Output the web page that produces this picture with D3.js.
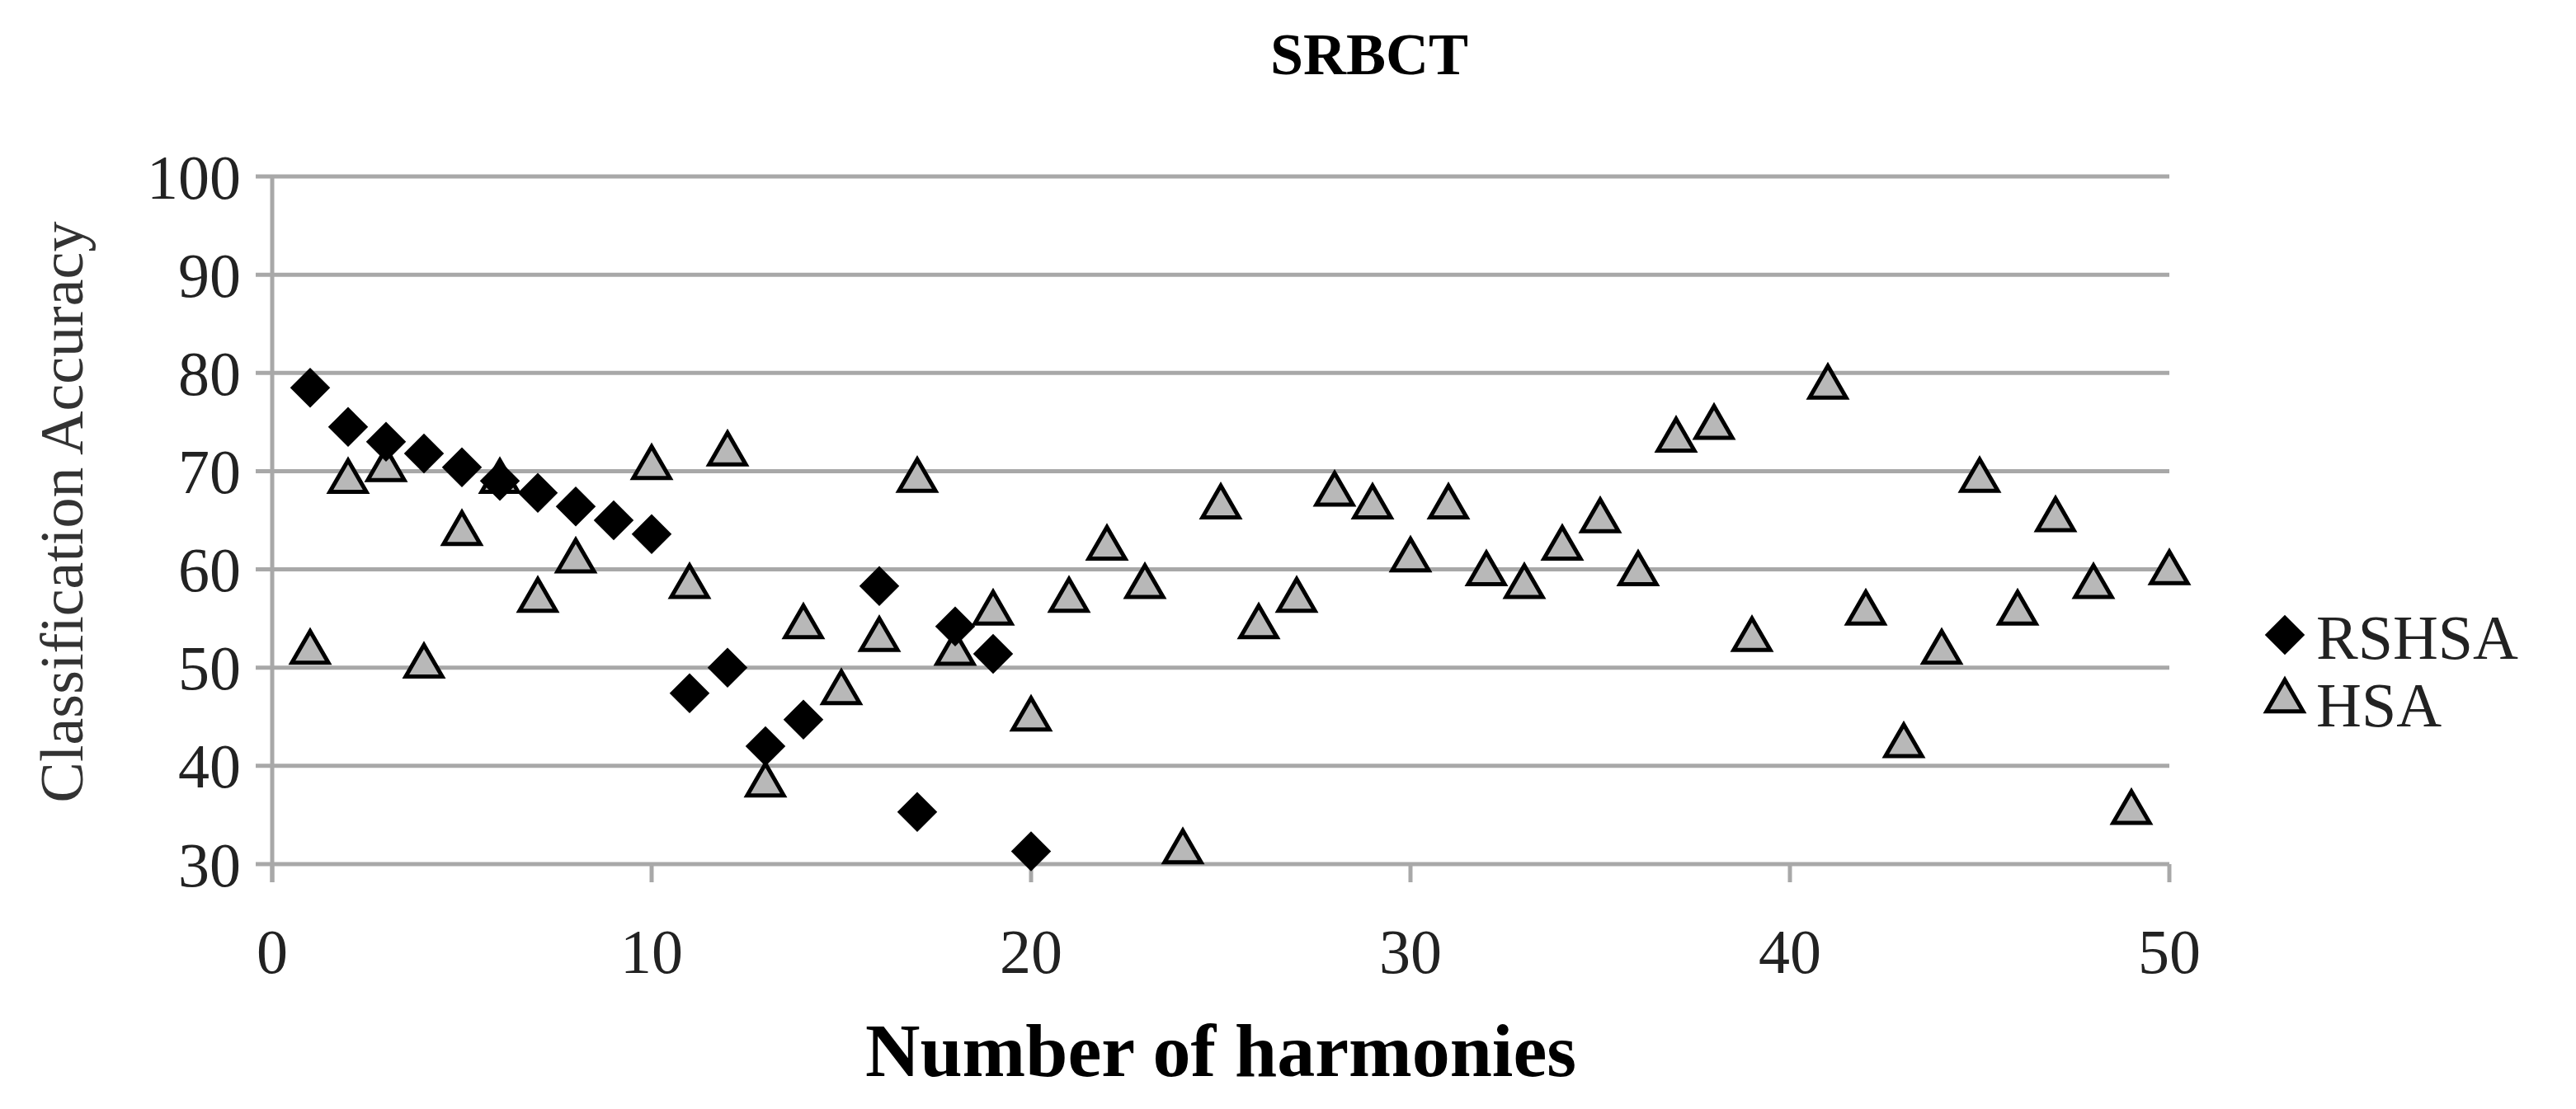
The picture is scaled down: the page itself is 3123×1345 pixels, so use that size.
<!DOCTYPE html>
<html>
<head>
<meta charset="utf-8">
<script src="https://cdn.jsdelivr.net/npm/d3@7"></script>
<style>
  body { margin: 0; background: #fff; }
  text { font-family: "Liberation Serif", "DejaVu Serif", serif; }
</style>
</head>
<body>
<div id="chart"></div>
<script>
// RSHSA series (harmonies, accuracy)
var rshsaX = [1, 2, 3, 4, 5, 6, 7, 8, 9, 10, 11, 12, 13, 14, 16, 17, 18, 19, 20];
var rshsaY = [78.5, 74.5, 73, 71.8, 70.4, 69, 67.8, 66.4, 65, 63.6, 47.4, 50, 42, 44.7, 58.3, 35.3, 54.2, 51.4, 31.3];

// HSA series
var hsaX = [1, 2, 3, 4, 5, 6, 7, 8, 10, 11, 12, 13, 14, 15, 16, 17, 18, 19, 20, 21, 22, 23, 24, 25,
            26, 27, 28, 29, 30, 31, 32, 33, 34, 35, 36, 37, 38, 39, 41, 42, 43, 44, 45, 46, 47, 48, 49, 50];
var hsaY = [51.4, 68.8, 70, 50, 63.5, 68.8, 56.7, 60.7, 70.2, 58.1, 71.6, 37.9, 54, 47.3, 52.7, 68.9, 51.3, 55.4, 44.6, 56.7, 62, 58.1, 31.1, 66.2,
            54, 56.7, 67.5, 66.2, 60.8, 66.2, 59.4, 58.1, 62, 64.8, 59.4, 73, 74.3, 52.7, 78.4, 55.4, 41.9, 51.4, 68.9, 55.4, 64.9, 58.1, 35.1, 59.5];

var xTicks = [0, 10, 20, 30, 40, 50];
var yTicks = [30, 40, 50, 60, 70, 80, 90, 100];

var W = 3123, H = 1345;
var margin = { top: 214, left: 330, right: 493, bottom: 297 };

var svg = d3.select("#chart").append("svg")
    .attr("width", W)
    .attr("height", H);

var x = d3.scaleLinear().domain([0, 50]).range([margin.left, W - margin.right]);
var y = d3.scaleLinear().domain([30, 100]).range([H - margin.bottom, margin.top]);

// gridlines
svg.append("g")
    .selectAll("line")
    .data(yTicks)
    .enter().append("line")
    .attr("x1", x(0) - 20)
    .attr("x2", x(50))
    .attr("y1", d => y(d))
    .attr("y2", d => y(d))
    .attr("stroke", "#a8a8a8")
    .attr("stroke-width", 5);

// left axis line
svg.append("line")
    .attr("x1", x(0)).attr("x2", x(0))
    .attr("y1", y(100)).attr("y2", y(30) + 22)
    .attr("stroke", "#a8a8a8").attr("stroke-width", 5);

// x tick marks
svg.append("g")
    .selectAll("line")
    .data(xTicks)
    .enter().append("line")
    .attr("x1", d => x(d)).attr("x2", d => x(d))
    .attr("y1", y(30)).attr("y2", y(30) + 22)
    .attr("stroke", "#a8a8a8").attr("stroke-width", 5);

// tick labels
svg.append("g")
    .selectAll("text")
    .data(yTicks)
    .enter().append("text")
    .attr("x", x(0) - 38)
    .attr("y", d => y(d))
    .attr("dy", "0.35em")
    .attr("text-anchor", "end")
    .attr("font-size", 76)
    .attr("fill", "#222")
    .text(d => d);

svg.append("g")
    .selectAll("text")
    .data(xTicks)
    .enter().append("text")
    .attr("x", d => x(d))
    .attr("y", 1180)
    .attr("text-anchor", "middle")
    .attr("font-size", 76)
    .attr("fill", "#222")
    .text(d => d);

// titles
svg.append("text")
    .attr("x", 1660).attr("y", 90)
    .attr("text-anchor", "middle")
    .attr("font-size", 72).attr("font-weight", "bold")
    .text("SRBCT");

svg.append("text")
    .attr("x", 1480).attr("y", 1305)
    .attr("text-anchor", "middle")
    .attr("font-size", 92).attr("font-weight", "bold")
    .text("Number of harmonies");

svg.append("text")
    .attr("transform", "translate(100," + ((y(30) + y(100)) / 2 - 10) + ") rotate(-90)")
    .attr("text-anchor", "middle")
    .attr("font-size", 74)
    .attr("fill", "#333")
    .text("Classification Accuracy");

var diamond = d3.symbol().type(d3.symbolDiamond2).size(1500);
var triangle = d3.symbol().type(d3.symbolTriangle).size(850);

// HSA triangles
svg.append("g")
    .selectAll("path")
    .data(hsaX.map((d, i) => [d, hsaY[i]]))
    .enter().append("path")
    .attr("d", triangle)
    .attr("transform", d => "translate(" + x(d[0]) + "," + (y(d[1]) - 2) + ")")
    .attr("fill", "#b8b8b8")
    .attr("stroke", "#000")
    .attr("stroke-width", 5);

// RSHSA diamonds
svg.append("g")
    .selectAll("path")
    .data(rshsaX.map((d, i) => [d, rshsaY[i]]))
    .enter().append("path")
    .attr("d", diamond)
    .attr("transform", d => "translate(" + x(d[0]) + "," + y(d[1]) + ")")
    .attr("fill", "#000");

// legend
var legend = svg.append("g").attr("transform", "translate(2770,0)");
legend.append("path").attr("d", diamond)
    .attr("transform", "translate(0,770)").attr("fill", "#000");
legend.append("text").attr("x", 38).attr("y", 772).attr("dy", "0.35em")
    .attr("font-size", 76).attr("fill", "#222").text("RSHSA");
legend.append("path").attr("d", triangle)
    .attr("transform", "translate(0,850)")
    .attr("fill", "#b8b8b8").attr("stroke", "#000").attr("stroke-width", 5);
legend.append("text").attr("x", 38).attr("y", 854).attr("dy", "0.35em")
    .attr("font-size", 76).attr("fill", "#222").text("HSA");
</script>
</body>
</html>
